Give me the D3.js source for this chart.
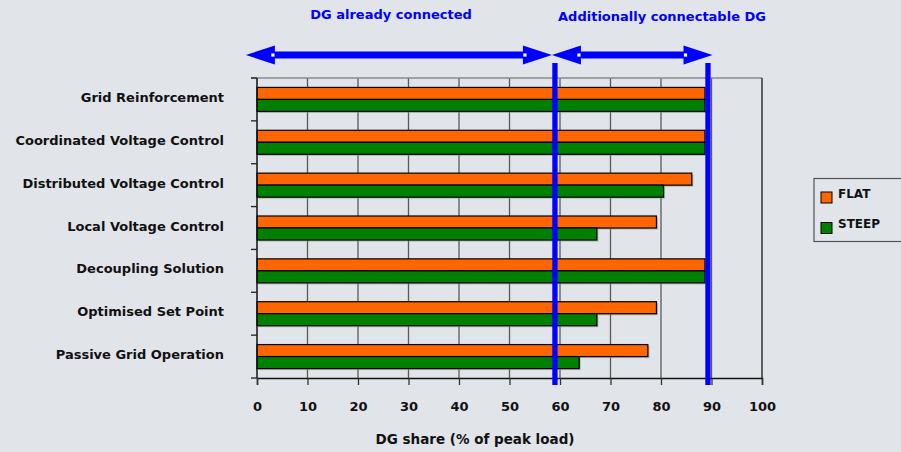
<!DOCTYPE html>
<html>
<head>
<meta charset="utf-8">
<script src="https://cdn.jsdelivr.net/npm/d3@7/dist/d3.min.js"></script>
<style>
  html, body { margin: 0; padding: 0; background: #e1e4e8; }
  svg { display: block; }
  text { font-family: "DejaVu Sans", Verdana, sans-serif; font-weight: bold; fill: #111; }
</style>
</head>
<body>
<svg id="chart" width="901" height="452"></svg>
<script>
// Control strategies and the DG share each one can host (% of peak load)
const categories = [
  "Grid Reinforcement",
  "Coordinated Voltage Control",
  "Distributed Voltage Control",
  "Local Voltage Control",
  "Decoupling Solution",
  "Optimised Set Point",
  "Passive Grid Operation"
];
const seriesNames = ["FLAT", "STEEP"];
const flatValues  = [88.7, 88.7, 86.1, 79.1, 88.7, 79.1, 77.4];
const steepValues = [88.7, 88.7, 80.5, 67.3, 88.7, 67.3, 63.8];
const seriesColors = ["#ff6600", "#008000"];
const xTicks = [0, 10, 20, 30, 40, 50, 60, 70, 80, 90, 100];

// Reference levels: already connected DG and the limit after control
const markerLines = [59, 89.3];
const arrowSpans = [[-2.2, 58.4], [58.4, 90.2]];
const arrowLabels = ["DG already connected", "Additionally connectable DG"];

const svg = d3.select("#chart");
const bg = "#e1e4e8";

const plotLeft = 257, plotRight = 762, plotTop = 78, plotBottom = 378;

const x = d3.scaleLinear().domain([0, 100]).range([plotLeft, plotRight]);
const y = d3.scaleBand().domain(categories).range([plotTop, plotBottom]).padding(0);
const ySub = d3.scaleBand().domain(seriesNames).range([0, y.bandwidth()])
  .paddingInner(0).paddingOuter(0.786);

// plot background
svg.append("rect").attr("x", plotLeft).attr("y", plotTop)
  .attr("width", plotRight - plotLeft).attr("height", plotBottom - plotTop)
  .attr("fill", bg);

// vertical gridlines
svg.append("g").selectAll("line")
  .data(xTicks.filter(d => d > 0 && d < 100))
  .join("line")
  .attr("x1", d => x(d)).attr("x2", d => x(d))
  .attr("y1", plotTop).attr("y2", plotBottom)
  .attr("stroke", "#5a5a5a").attr("stroke-width", 1.3);

// top and right frame
svg.append("line").attr("x1", plotLeft - 6).attr("x2", plotRight)
  .attr("y1", plotTop).attr("y2", plotTop).attr("stroke", "#8a8a8a").attr("stroke-width", 1.5);
svg.append("line").attr("x1", plotRight).attr("x2", plotRight)
  .attr("y1", plotTop).attr("y2", plotBottom).attr("stroke", "#333").attr("stroke-width", 1.5);

// bars
const rows = categories.map((c, i) => ({ cat: c, vals: [flatValues[i], steepValues[i]] }));
const rowG = svg.append("g").selectAll("g").data(rows).join("g")
  .attr("transform", d => `translate(0,${y(d.cat)})`);

// soft drop shadow under each bar
rowG.selectAll("rect.shadow")
  .data(d => d.vals.map((v, j) => ({ v, s: seriesNames[j], j })))
  .join("rect").attr("class", "shadow")
  .attr("x", x(0) + 1.5).attr("y", d => ySub(d.s) + 1.5)
  .attr("width", d => x(d.v) - x(0)).attr("height", ySub.bandwidth())
  .attr("fill", "#8c8c8c").attr("opacity", 0.6);

rowG.selectAll("rect.bar")
  .data(d => d.vals.map((v, j) => ({ v, s: seriesNames[j], j })))
  .join("rect").attr("class", "bar")
  .attr("x", x(0)).attr("y", d => ySub(d.s))
  .attr("width", d => x(d.v) - x(0)).attr("height", ySub.bandwidth())
  .attr("fill", d => seriesColors[d.j])
  .attr("stroke", "#000").attr("stroke-width", 1.2);

// x axis
const xAxis = svg.append("g").attr("transform", `translate(0,${plotBottom})`)
  .call(d3.axisBottom(x).tickValues(xTicks).tickSize(7).tickPadding(17).tickFormat(d3.format("d")));
xAxis.select(".domain").attr("stroke", "#111").attr("stroke-width", 1.5);
xAxis.selectAll(".tick line").attr("stroke", "#333").attr("stroke-width", 1.3);
xAxis.selectAll(".tick text").attr("font-size", "13px").attr("font-family", "DejaVu Sans, Verdana, sans-serif")
  .attr("font-weight", "bold").attr("fill", "#111");

// y axis: ticks at category boundaries
const bounds = d3.range(categories.length + 1).map(i => plotTop + i * y.step());
svg.append("line").attr("x1", plotLeft).attr("x2", plotLeft).attr("y1", plotTop).attr("y2", plotBottom)
  .attr("stroke", "#111").attr("stroke-width", 1.5);
svg.append("g").selectAll("line").data(bounds).join("line")
  .attr("x1", plotLeft - 6).attr("x2", plotLeft)
  .attr("y1", d => d).attr("y2", d => d)
  .attr("stroke", "#222").attr("stroke-width", 1.3);

// category labels
svg.append("g").selectAll("text").data(categories).join("text")
  .attr("x", 224).attr("y", d => y(d) + y.bandwidth() / 2 - 2)
  .attr("dy", "0.35em").attr("text-anchor", "end")
  .attr("font-size", "13px").text(d => d);

// axis title
svg.append("text").attr("x", 475).attr("y", 444).attr("text-anchor", "middle")
  .attr("font-size", "13.5px").text("DG share (% of peak load)");

// blue reference lines
svg.append("g").selectAll("line").data(markerLines).join("line")
  .attr("x1", d => x(d)).attr("x2", d => x(d))
  .attr("y1", 63).attr("y2", 385)
  .attr("stroke", "#0000ff").attr("stroke-width", 5.3);

// double-headed arrows
const ay = 55, headLen = 29, headHalf = 9.5, shaftHalf = 3.4;
function arrowPath(x0, x1) {
  return [
    [x0, ay], [x0 + headLen, ay - headHalf], [x0 + headLen, ay - shaftHalf],
    [x1 - headLen, ay - shaftHalf], [x1 - headLen, ay - headHalf], [x1, ay],
    [x1 - headLen, ay + headHalf], [x1 - headLen, ay + shaftHalf],
    [x0 + headLen, ay + shaftHalf], [x0 + headLen, ay + headHalf]
  ];
}
svg.append("g").selectAll("polygon").data(arrowSpans).join("polygon")
  .attr("points", d => arrowPath(x(d[0]), x(d[1])).map(p => p.join(",")).join(" "))
  .attr("fill", "#0000ff");
// small white end markers on the shafts
const markerXs = arrowSpans.flatMap(d => [x(d[0]) + headLen - 2, x(d[1]) - headLen + 2]);
svg.append("g").selectAll("rect").data(markerXs).join("rect")
  .attr("x", d => d - 1.6).attr("y", ay - 1.6).attr("width", 3.2).attr("height", 3.2)
  .attr("fill", "#fff");

// arrow labels
svg.append("text").attr("x", 391).attr("y", 19).attr("text-anchor", "middle")
  .attr("font-size", "13px").style("fill", "#0000ff").text(arrowLabels[0]);
svg.append("text").attr("x", 662).attr("y", 21).attr("text-anchor", "middle")
  .attr("font-size", "13px").style("fill", "#0000ff").text(arrowLabels[1]);

// legend
const lg = svg.append("g");
lg.append("rect").attr("x", 814).attr("y", 178.5).attr("width", 120).attr("height", 63)
  .attr("fill", bg).attr("stroke", "#555").attr("stroke-width", 1.2);
const legendRows = lg.selectAll("g").data(seriesNames).join("g")
  .attr("transform", (d, i) => `translate(821,${192 + i * 30.5})`);
legendRows.append("rect").attr("width", 11).attr("height", 11)
  .attr("fill", (d, i) => seriesColors[i]).attr("stroke", "#000").attr("stroke-width", 1);
legendRows.append("text").attr("x", 17).attr("y", 5.5)
  .attr("font-size", "12px").text(d => d);
</script>
</body>
</html>
